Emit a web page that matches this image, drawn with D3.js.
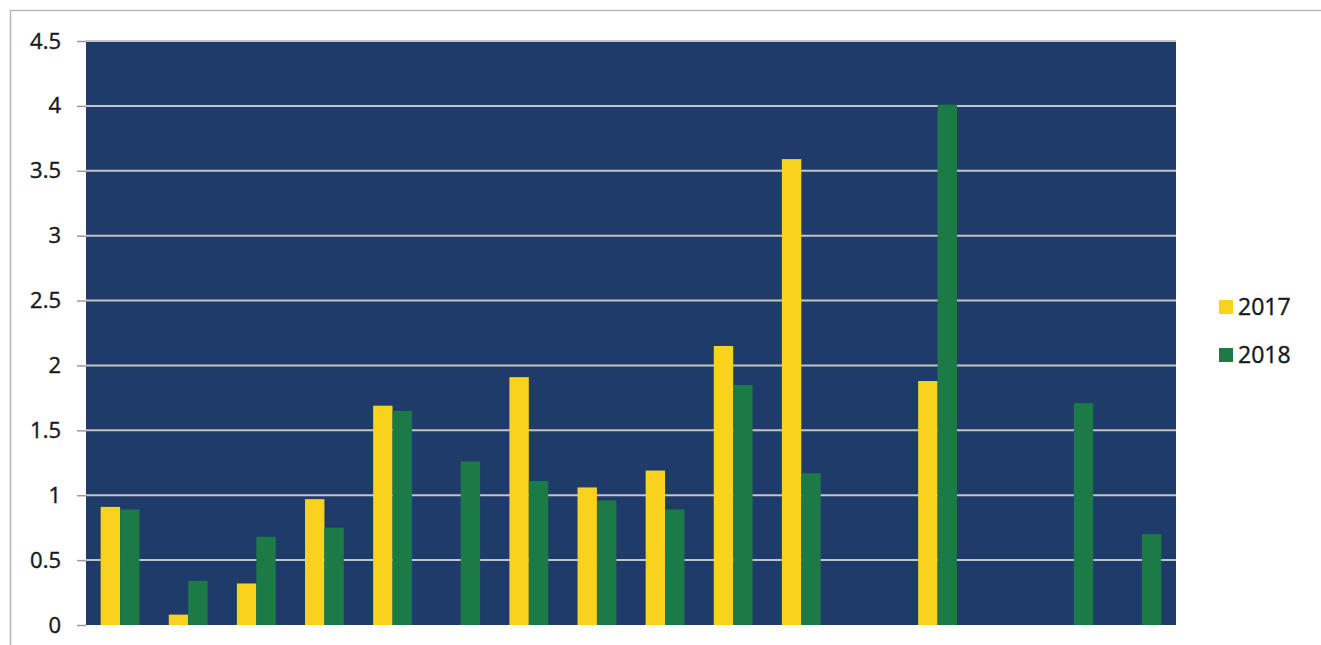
<!DOCTYPE html>
<html><head><meta charset="utf-8">
<script src="https://cdn.jsdelivr.net/npm/d3@7"></script>
<style>html,body{margin:0;padding:0;background:#fff;}svg{display:block;}</style>
</head><body>
<script>
const categories = ["1","2","3","4","5","6","7","8","9","10","11","12","13","14","15","16"];
const series = ["2017","2018"];
const values2017 = [0.91,0.08,0.32,0.97,1.69,null,1.91,1.06,1.19,2.15,3.59,null,1.88,null,null,null];
const values2018 = [0.89,0.34,0.68,0.75,1.65,1.26,1.11,0.96,0.89,1.85,1.17,null,4.01,null,1.71,0.70];
const yTicks = [0,0.5,1,1.5,2,2.5,3,3.5,4,4.5];
const colors = {"2017":"#f8d21c","2018":"#1b7a45"};

const W=1321,H=645;
const m={left:86,right:1176,top:41,bottom:625};
const svg=d3.select("body").append("svg").attr("width",W).attr("height",H);

// outer border
svg.append("path").attr("d",`M10.5,${H} V10.5 H${W}`).attr("fill","none").attr("stroke","#b8b8b8").attr("stroke-width",1.5);

const x0=d3.scaleBand().domain(categories).range([m.left,m.right]).paddingInner(0.43).paddingOuter(0.215);
const x1=d3.scaleBand().domain(series).range([0,x0.bandwidth()]);
const y=d3.scaleLinear().domain([0,4.5]).range([m.bottom,m.top]);

svg.append("rect").attr("x",m.left).attr("y",m.top).attr("width",m.right-m.left).attr("height",m.bottom-m.top).attr("fill","#1f3b69");

// grid
svg.append("g").selectAll("line").data(yTicks.filter(d=>d>0)).join("line")
 .attr("x1",m.left).attr("x2",m.right).attr("y1",d=>y(d)).attr("y2",d=>y(d))
 .attr("stroke","#c4c4c4").attr("stroke-width",2);

// bars
const data=categories.map((c,i)=>({c,vals:[{s:"2017",v:values2017[i]},{s:"2018",v:values2018[i]}]}));
svg.append("g").selectAll("g").data(data).join("g")
 .attr("transform",d=>`translate(${x0(d.c)},0)`)
 .selectAll("rect").data(d=>d.vals.filter(e=>e.v!=null)).join("rect")
 .attr("x",d=>x1(d.s)).attr("width",x1.bandwidth())
 .attr("y",d=>y(d.v)).attr("height",d=>y(0)-y(d.v))
 .attr("fill",d=>colors[d.s]);

// y axis
const ax=svg.append("g").attr("transform",`translate(${m.left},0)`)
 .call(d3.axisLeft(y).tickValues(yTicks).tickFormat(d=>String(d)).tickSize(9).tickPadding(16));
ax.select(".domain").remove();
ax.selectAll(".tick line").attr("stroke","#9a9a9a").attr("stroke-width",1.5);
ax.selectAll("text").attr("font-family","Open Sans").attr("font-size",22).attr("fill","#1a1a1a")
 .attr("stroke","#1a1a1a").attr("stroke-width",0.4);

// legend
const lg=svg.append("g");
series.forEach((s,i)=>{
 lg.append("rect").attr("x",1219).attr("y",300+i*48).attr("width",14).attr("height",14).attr("fill",colors[s]);
 lg.append("text").attr("x",1238).attr("y",315+i*48).text(s)
  .attr("font-family","Open Sans").attr("font-size",23).attr("fill","#1a1a1a")
  .attr("stroke","#1a1a1a").attr("stroke-width",0.4);
});
</script>
</body></html>
